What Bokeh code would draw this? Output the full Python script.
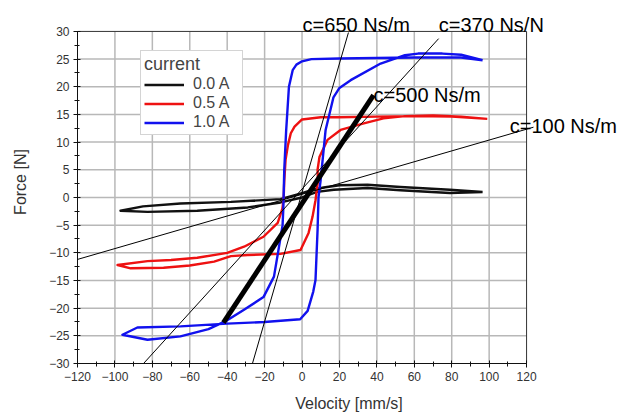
from bokeh.plotting import figure
from bokeh.models import (ColumnDataSource, Range1d, SingleIntervalTicker, Label,
                          Arrow, Legend, LegendItem)
from bokeh.embed import file_html
from bokeh.resources import INLINE

# ---- data (velocity mm/s, force N) ----
v_00 = [96.5, 79, 52.6, 35, 20, 11.5, 5, 0, -11.5, -38, -65, -85, -97,
        -82.6, -56, -29, -11.5, 0, 8, 17, 35, 52.6, 79, 96.5]
f_00 = [1.0, 1.4, 1.9, 2.3, 2.2, 1.8, 1.3, 0.8, -0.3, -0.8, -1.1, -1.6, -2.4,
        -2.6, -2.4, -1.8, -0.9, 0.0, 1.0, 1.4, 1.7, 1.3, 0.8, 1.0]

v_05 = [99, 80, 60, 40, 20, 10, 0, -4, -6, -7.5, -8.8, -9.5, -9.8, -10.5, -13,
        -20.6, -31, -40, -56, -70, -82.6, -98.6, -91.6, -74, -60, -47, -38,
        -29, -11.5, -0.8, 3.5, 5.6, 7.2, 8.5, 8.3, 9.3, 13.6, 20.6, 33, 43.5,
        55, 70, 85, 99]
f_05 = [14.2, 14.6, 14.7, 14.6, 14.5, 14.5, 14.1, 12.8, 11.6, 9.5, 6.8, 3.0,
        0.0, -2.0, -4.6, -7.1, -8.9, -10.0, -10.9, -11.3, -11.5, -12.2, -12.8,
        -12.7, -12.3, -11.6, -10.6, -10.4, -10.2, -9.5, -6.4, -3.5, -0.5, 3.0,
        5.0, 7.3, 10.4, 12.2, 13.4, 14.3, 14.7, 14.8, 14.6, 14.2]

v_10 = [96.5, 85, 60, 40, 20, 5, 0, -3, -5, -7, -8.5, -9.5, -10, -10.4, -12.6,
        -15, -20.6, -31, -40, -50, -65, -82.6, -96, -88, -65, -40, -20, -1,
        3, 6, 7.2, 8.3, 8.8, 9.9, 12.6, 16.8, 20, 26, 42, 55, 62, 75, 85, 96.5]
f_10 = [24.8, 25.3, 25.3, 25.2, 25.1, 25.0, 24.6, 24.0, 23.0, 20.0, 12.0, 5.0,
        -2.0, -5.0, -9.5, -14.3, -18.0, -20.3, -22.2, -23.8, -25.1, -25.7,
        -24.8, -23.5, -23.3, -22.8, -22.5, -22.0, -20.5, -17.0, -14.9, -5.9,
        0.0, 3.0, 12.2, 18.1, 19.8, 21.2, 24.2, 25.7, 26.0, 26.0, 25.8, 24.8]

# damping lines (endpoints) and their labels
line_names = ["c=100 Ns/m", "c=650 Ns/m", "c=370 Ns/N", "c=500 Ns/m"]
line_x0 = [-122.1, -26.5, -84.7, -42.0]
line_y0 = [-11.4, -30.0, -30.0, -22.6]
line_x1 = [123.7, 24.8, 73.0, 38.2]
line_y1 = [12.7, 29.8, 28.7, 18.5]
label_x = [111.0, 0.3, 73.1, 38.2]
label_y = [13.0, 31.1, 31.1, 18.5]

series_labels = ["0.0 A", "0.5 A", "1.0 A"]
series_colors = ["#111111", "#ee1111", "#1111ee"]

# axis limits and tick positions
X_MIN, X_MAX = -120, 120
Y_MIN, Y_MAX = -30, 30
x_ticks = list(range(-120, 121, 20))
y_ticks = list(range(-30, 31, 5))

FONT = "Liberation Sans"

# the frame reaches past the axes (right and top) so that the
# annotation texts and lines can extend outside the box
p = figure(width=620, height=414,
           output_backend="svg", toolbar_location=None,
           x_range=Range1d(X_MIN, 170.2), y_range=Range1d(Y_MIN, 35.59),
           min_border_left=77, min_border_top=0, min_border_right=0,
           min_border_bottom=50)

p.outline_line_color = None
p.xgrid.visible = False
p.ygrid.visible = False

# grid lines (from tick positions)
gx = [t for t in x_ticks if X_MIN < t < X_MAX]
gy = [t for t in y_ticks if Y_MIN < t < Y_MAX]
p.segment(x0=gx, y0=[Y_MIN] * len(gx), x1=gx, y1=[Y_MAX] * len(gx),
          line_color="#b8b8b8", line_width=1.5)
p.segment(x0=[X_MIN] * len(gy), y0=gy, x1=[X_MAX] * len(gy), y1=gy,
          line_color="#b8b8b8", line_width=1.5)
# top / right box edges
p.segment(x0=[X_MIN, X_MAX], y0=[Y_MAX, Y_MIN], x1=[X_MAX, X_MAX],
          y1=[Y_MAX, Y_MAX], line_color="#333333", line_width=1)

for ax in (p.xaxis[0], p.yaxis[0]):
    ax.axis_line_color = "#111111"
    ax.major_tick_line_color = "#111111"
    ax.minor_tick_line_color = "#111111"
    ax.major_tick_in = 3
    ax.major_tick_out = 4
    ax.minor_tick_in = 2
    ax.minor_tick_out = 3
    ax.major_label_text_font = FONT
    ax.major_label_text_font_size = "12px"
    ax.major_label_text_color = "#333333"
    ax.axis_label_text_font = FONT
    ax.axis_label_text_font_size = "16px"
    ax.axis_label_text_font_style = "normal"
    ax.axis_label_text_color = "#333333"

p.xaxis[0].ticker = SingleIntervalTicker(interval=20, num_minor_ticks=2)
p.yaxis[0].ticker = SingleIntervalTicker(interval=5, num_minor_ticks=2)
p.xaxis[0].bounds = (X_MIN, X_MAX)
p.yaxis[0].bounds = (Y_MIN, Y_MAX)
p.xaxis.axis_label = "Velocity [mm/s]"
p.yaxis.axis_label = "Force [N]"
p.xaxis.major_label_standoff = 4
p.yaxis.major_label_standoff = 4
p.xaxis.axis_label_standoff = 11
p.yaxis.axis_label_standoff = 17

renderers = []
for xs, ys, col in ((v_00, f_00, series_colors[0]),
                    (v_05, f_05, series_colors[1]),
                    (v_10, f_10, series_colors[2])):
    src = ColumnDataSource(dict(x=xs, y=ys))
    r = p.line("x", "y", source=src, line_color=col, line_width=2.4,
               line_join="round")
    renderers.append(r)

for i in range(len(line_names)):
    w = 5 if line_names[i] == "c=500 Ns/m" else 1
    p.add_layout(Arrow(end=None, x_start=line_x0[i], y_start=line_y0[i],
                       x_end=line_x1[i], y_end=line_y1[i],
                       line_color="black", line_width=w))
    p.add_layout(Label(x=label_x[i], y=label_y[i], text=line_names[i],
                       text_font=FONT, text_font_size="20px",
                       text_color="black", text_baseline="alphabetic",
                       text_align="left"))

legend = Legend(items=[LegendItem(label=series_labels[i], renderers=[renderers[i]])
                       for i in range(3)],
                location=(63, 228), title="current",
                title_text_font=FONT, title_text_font_size="18px",
                title_text_font_style="normal", title_standoff=0,
                label_text_font=FONT, label_text_font_size="16px",
                glyph_width=40, glyph_height=15, label_height=15,
                label_width=46, label_standoff=9, spacing=1, padding=3,
                margin=0,
                border_line_color="#aaaaaa", border_line_width=1,
                background_fill_color="white", background_fill_alpha=1)
p.add_layout(legend, "center")

open("out.html", "w").write(file_html(p, INLINE))
